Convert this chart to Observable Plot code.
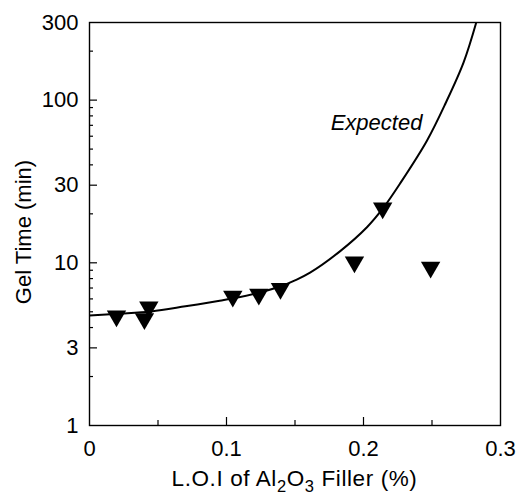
<!DOCTYPE html>
<html><head><meta charset="utf-8">
<script src="https://cdn.jsdelivr.net/npm/d3@7"></script>
<script src="https://cdn.jsdelivr.net/npm/@observablehq/plot@0.6"></script>
<style>body{margin:0;background:#fff;} svg{display:block}</style>
</head><body><div id="chart"></div>
<script>
// measured points (L.O.I %, gel time min)
const loi = [0.0197, 0.0401, 0.0433, 0.1046, 0.1236, 0.1394, 0.1934, 0.2140, 0.2490];
const gelTime = [4.71, 4.53, 5.35, 6.23, 6.40, 6.95, 10.1, 21.7, 9.37];
// expected curve
const curveLoi = [0, 0.02, 0.045, 0.07, 0.095, 0.105, 0.124, 0.14, 0.15, 0.161, 0.183, 0.2027, 0.214, 0.227, 0.2464, 0.26, 0.273, 0.2823];
const curveGel = [4.74, 4.86, 5.02, 5.4, 5.85, 6.05, 6.55, 7.2, 7.8, 8.7, 11.8, 16.6, 21.5, 31, 56.5, 96, 170, 300];
// ticks
const yLabelTicks = [1, 3, 10, 30, 100, 300];
const yMajorTicks = [3, 10, 30, 100];
const yMinorTicks = [2, 4, 5, 6, 7, 8, 9, 20, 40, 50, 60, 70, 80, 90, 200];
const xLabelTicks = [0, 0.1, 0.2, 0.3];
const xMajorTicks = [0.1, 0.2];
const xMinorTicks = [0.05, 0.15, 0.25];
const annotation = [{x: 0.243, y: 72, text: "Expected"}];

const points = loi.map((x, i) => ({x, y: gelTime[i]}));
const curve = curveLoi.map((x, i) => ({x, y: curveGel[i]}));

const W = 520, H = 494;
const mL = 89, mR = 20, mT = 22, mB = 69;

const svg = Plot.plot({
  width: W, height: H,
  marginLeft: mL, marginRight: mR, marginTop: mT, marginBottom: mB,
  style: {fontFamily: "'Liberation Sans', Arial, Helvetica, sans-serif", fontSize: "22px", background: "#fff", color: "#000"},
  x: {domain: [0, 0.3]},
  y: {type: "log", domain: [1, 300]},
  marks: [
    Plot.axisY({ticks: yLabelTicks, tickSize: 0, tickPadding: 11, tickFormat: d => String(d), label: null}),
    Plot.axisY({ticks: yMajorTicks, tickSize: -8, text: null, label: null, strokeWidth: 1.2}),
    Plot.axisY({ticks: yMinorTicks, tickSize: -4, text: null, label: null, strokeWidth: 1.2}),
    Plot.axisX({ticks: xLabelTicks, tickSize: 0, tickPadding: 15, tickFormat: d => String(d), label: null}),
    Plot.axisX({ticks: xMajorTicks, tickSize: -8, text: null, label: null, strokeWidth: 1.2}),
    Plot.axisX({ticks: xMinorTicks, tickSize: -5, text: null, label: null, strokeWidth: 1.2}),
    Plot.frame({stroke: "#000", strokeWidth: 1.4}),
    Plot.line(curve, {x: "x", y: "y", curve: "catmull-rom", stroke: "#000", strokeWidth: 2, clip: true}),
    Plot.dot(points, {x: "x", y: "y", symbol: "triangle", rotate: 180, r: 7.2, fill: "#000", stroke: "none"}),
    Plot.text(annotation, {x: "x", y: "y", text: "text", textAnchor: "end", fontStyle: "italic", fontSize: 22, fill: "#000"})
  ]
});

const s = d3.select(svg);
// x-axis title with subscripts
const xt = s.append("text")
  .attr("x", (mL + W - mR) / 2).attr("y", 486)
  .attr("text-anchor", "middle").attr("font-size", 22.5).attr("letter-spacing", 0.6).attr("fill", "#000");
xt.append("tspan").text("L.O.I of Al");
xt.append("tspan").attr("font-size", 16.5).attr("dy", 6).text("2");
xt.append("tspan").attr("dy", -6).text("O");
xt.append("tspan").attr("font-size", 16.5).attr("dy", 6).text("3");
xt.append("tspan").attr("dy", -6).text(" Filler (%)");
// y-axis title
s.append("text")
  .attr("transform", "translate(30.5,232) rotate(-90)")
  .attr("text-anchor", "middle").attr("font-size", 22).attr("fill", "#000")
  .text("Gel Time (min)");

document.getElementById("chart").appendChild(svg);
</script>
</body></html>
